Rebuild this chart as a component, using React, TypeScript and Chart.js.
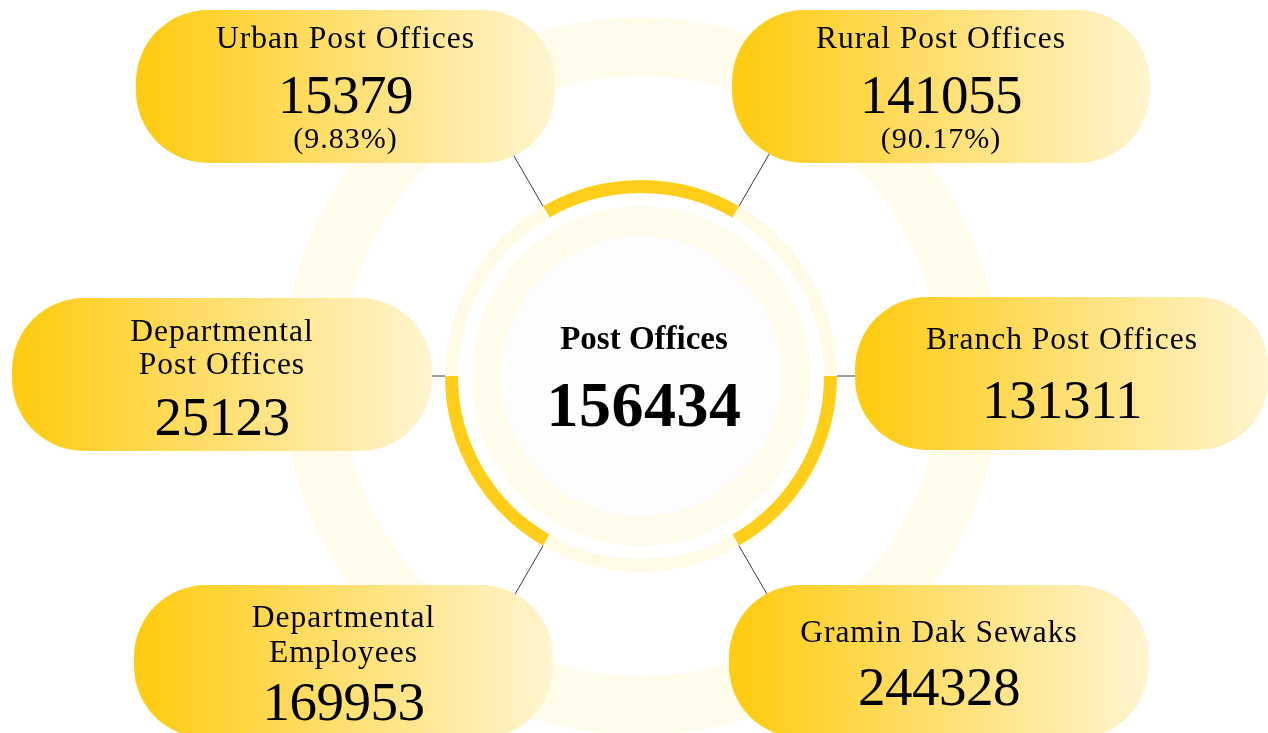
import React, { useEffect, useRef } from "react";
import { Chart, registerables } from "chart.js";

Chart.register(...registerables);

// ---------- data ----------
const CENTER_LABEL = "Post Offices";
const CENTER_VALUE = 156434;

const PILL_TITLES: string[][] = [
  ["Urban Post Offices"],
  ["Rural Post Offices"],
  ["Departmental", "Post Offices"],
  ["Branch Post Offices"],
  ["Departmental", "Employees"],
  ["Gramin Dak Sewaks"],
];
const PILL_VALUES = [15379, 141055, 25123, 131311, 169953, 244328];
const PILL_SHARES: (string | null)[] = ["9.83%", "90.17%", null, null, null, null];

const RING_LABELS = ["Urban", "Rural", "Branch", "Gramin", "Employees", "Departmental"];
const RING_SEGMENTS = [60, 60, 60, 60, 60, 60];

// ---------- layout / style ----------
const FONT = '"Liberation Serif", "Times New Roman", serif';
const YELLOW = "#FECE1A";
const PALE = "#FFFBE6";

const PILL_LAYOUT = [
  { left: 136, top: 10, width: 419, titles: [38], num: 103, pct: 138 },
  { left: 732, top: 10, width: 418, titles: [38], num: 103, pct: 138 },
  { left: 12, top: 298, width: 420, titles: [43, 76], num: 137, pct: 0 },
  { left: 855, top: 297, width: 414, titles: [52], num: 121, pct: 0 },
  { left: 134, top: 585, width: 419, titles: [42, 77], num: 135, pct: 0 },
  { left: 729, top: 585, width: 420, titles: [57], num: 120, pct: 0 },
];

const ASC = 0.8375;

function Line(props: {
  base: number;
  size: number;
  text: string;
  bold?: boolean;
  ls?: number;
}) {
  const { base, size, text, bold, ls } = props;
  return (
    <div
      style={{
        position: "absolute",
        left: 0,
        width: "100%",
        top: base - ASC * size,
        fontSize: size,
        lineHeight: size + "px",
        fontWeight: bold ? 700 : 400,
        letterSpacing: (ls ?? 0) + "px",
        textAlign: "center",
        whiteSpace: "nowrap",
        color: "#000",
      }}
    >
      {text}
    </div>
  );
}

const connectorPlugin = {
  id: "connectors",
  afterDatasetsDraw(chart: any) {
    const meta = chart.getDatasetMeta(2);
    const ctx = chart.ctx;
    ctx.save();
    ctx.strokeStyle = "#3a3a3a";
    ctx.lineWidth = 1;
    meta.data.forEach((arc: any) => {
      const p = arc.getProps(["x", "y", "startAngle", "outerRadius"], true);
      const a = p.startAngle;
      const r0 = p.outerRadius;
      const r1 = r0 + 100;
      ctx.beginPath();
      ctx.moveTo(p.x + Math.cos(a) * r0, p.y + Math.sin(a) * r0);
      ctx.lineTo(p.x + Math.cos(a) * r1, p.y + Math.sin(a) * r1);
      ctx.stroke();
    });
    ctx.restore();
  },
};

export default function App() {
  const canvasRef = useRef<HTMLCanvasElement | null>(null);

  useEffect(() => {
    const canvas = canvasRef.current;
    if (!canvas) return;
    const clear = "rgba(0,0,0,0)";
    const chart = new Chart(canvas, {
      type: "doughnut",
      data: {
        labels: RING_LABELS,
        datasets: [
          { data: [1], backgroundColor: ["#FFFCEC"], weight: 59 } as any,
          { data: [1], backgroundColor: [clear], weight: 104 } as any,
          {
            data: RING_SEGMENTS,
            backgroundColor: RING_SEGMENTS.map((_, i) => (i % 2 === 0 ? YELLOW : PALE)),
            weight: 13,
            rotation: -30,
          } as any,
          { data: [1], backgroundColor: [clear], weight: 13 } as any,
          { data: [1], backgroundColor: ["#FFFCEB"], weight: 30 } as any,
          { data: [1], backgroundColor: ["#FDFDFD"], weight: 140 } as any,
        ],
      },
      options: {
        responsive: false,
        animation: false,
        events: [],
        radius: 359,
        cutout: 0,
        layout: { padding: 0 },
        elements: { arc: { borderWidth: 0 } },
        plugins: { legend: { display: false }, tooltip: { enabled: false } },
      } as any,
      plugins: [connectorPlugin],
    });
    return () => chart.destroy();
  }, []);

  return (
    <div
      style={{
        position: "absolute",
        left: 0,
        top: 0,
        width: 1268,
        height: 733,
        overflow: "hidden",
        background: "#fff",
        fontFamily: FONT,
      }}
    >
      <canvas
        ref={canvasRef}
        width={720}
        height={720}
        style={{ position: "absolute", left: 281, top: 16, width: 720, height: 720 }}
      />
      {PILL_LAYOUT.map((L, i) => (
        <div
          key={i}
          style={{
            position: "absolute",
            left: L.left,
            top: L.top,
            width: L.width,
            height: 153,
            borderRadius: 72,
            background: "linear-gradient(90deg, #FECC14 4%, #FFDB5E 40%, #FFF5D0 100%)",
          }}
        >
          {PILL_TITLES[i].map((t, j) => (
            <Line key={j} base={L.titles[j]} size={31.5} ls={1} text={t} />
          ))}
          <Line base={L.num} size={55} ls={-0.5} text={String(PILL_VALUES[i])} />
          {PILL_SHARES[i] ? (
            <Line base={L.pct} size={30} ls={1} text={"(" + PILL_SHARES[i] + ")"} />
          ) : null}
        </div>
      ))}
      <div style={{ position: "absolute", left: 444, top: 0, width: 400, height: 733 }}>
        <Line base={350} size={33} bold text={CENTER_LABEL} />
        <Line base={427} size={64} bold ls={0.5} text={String(CENTER_VALUE)} />
      </div>
    </div>
  );
}
